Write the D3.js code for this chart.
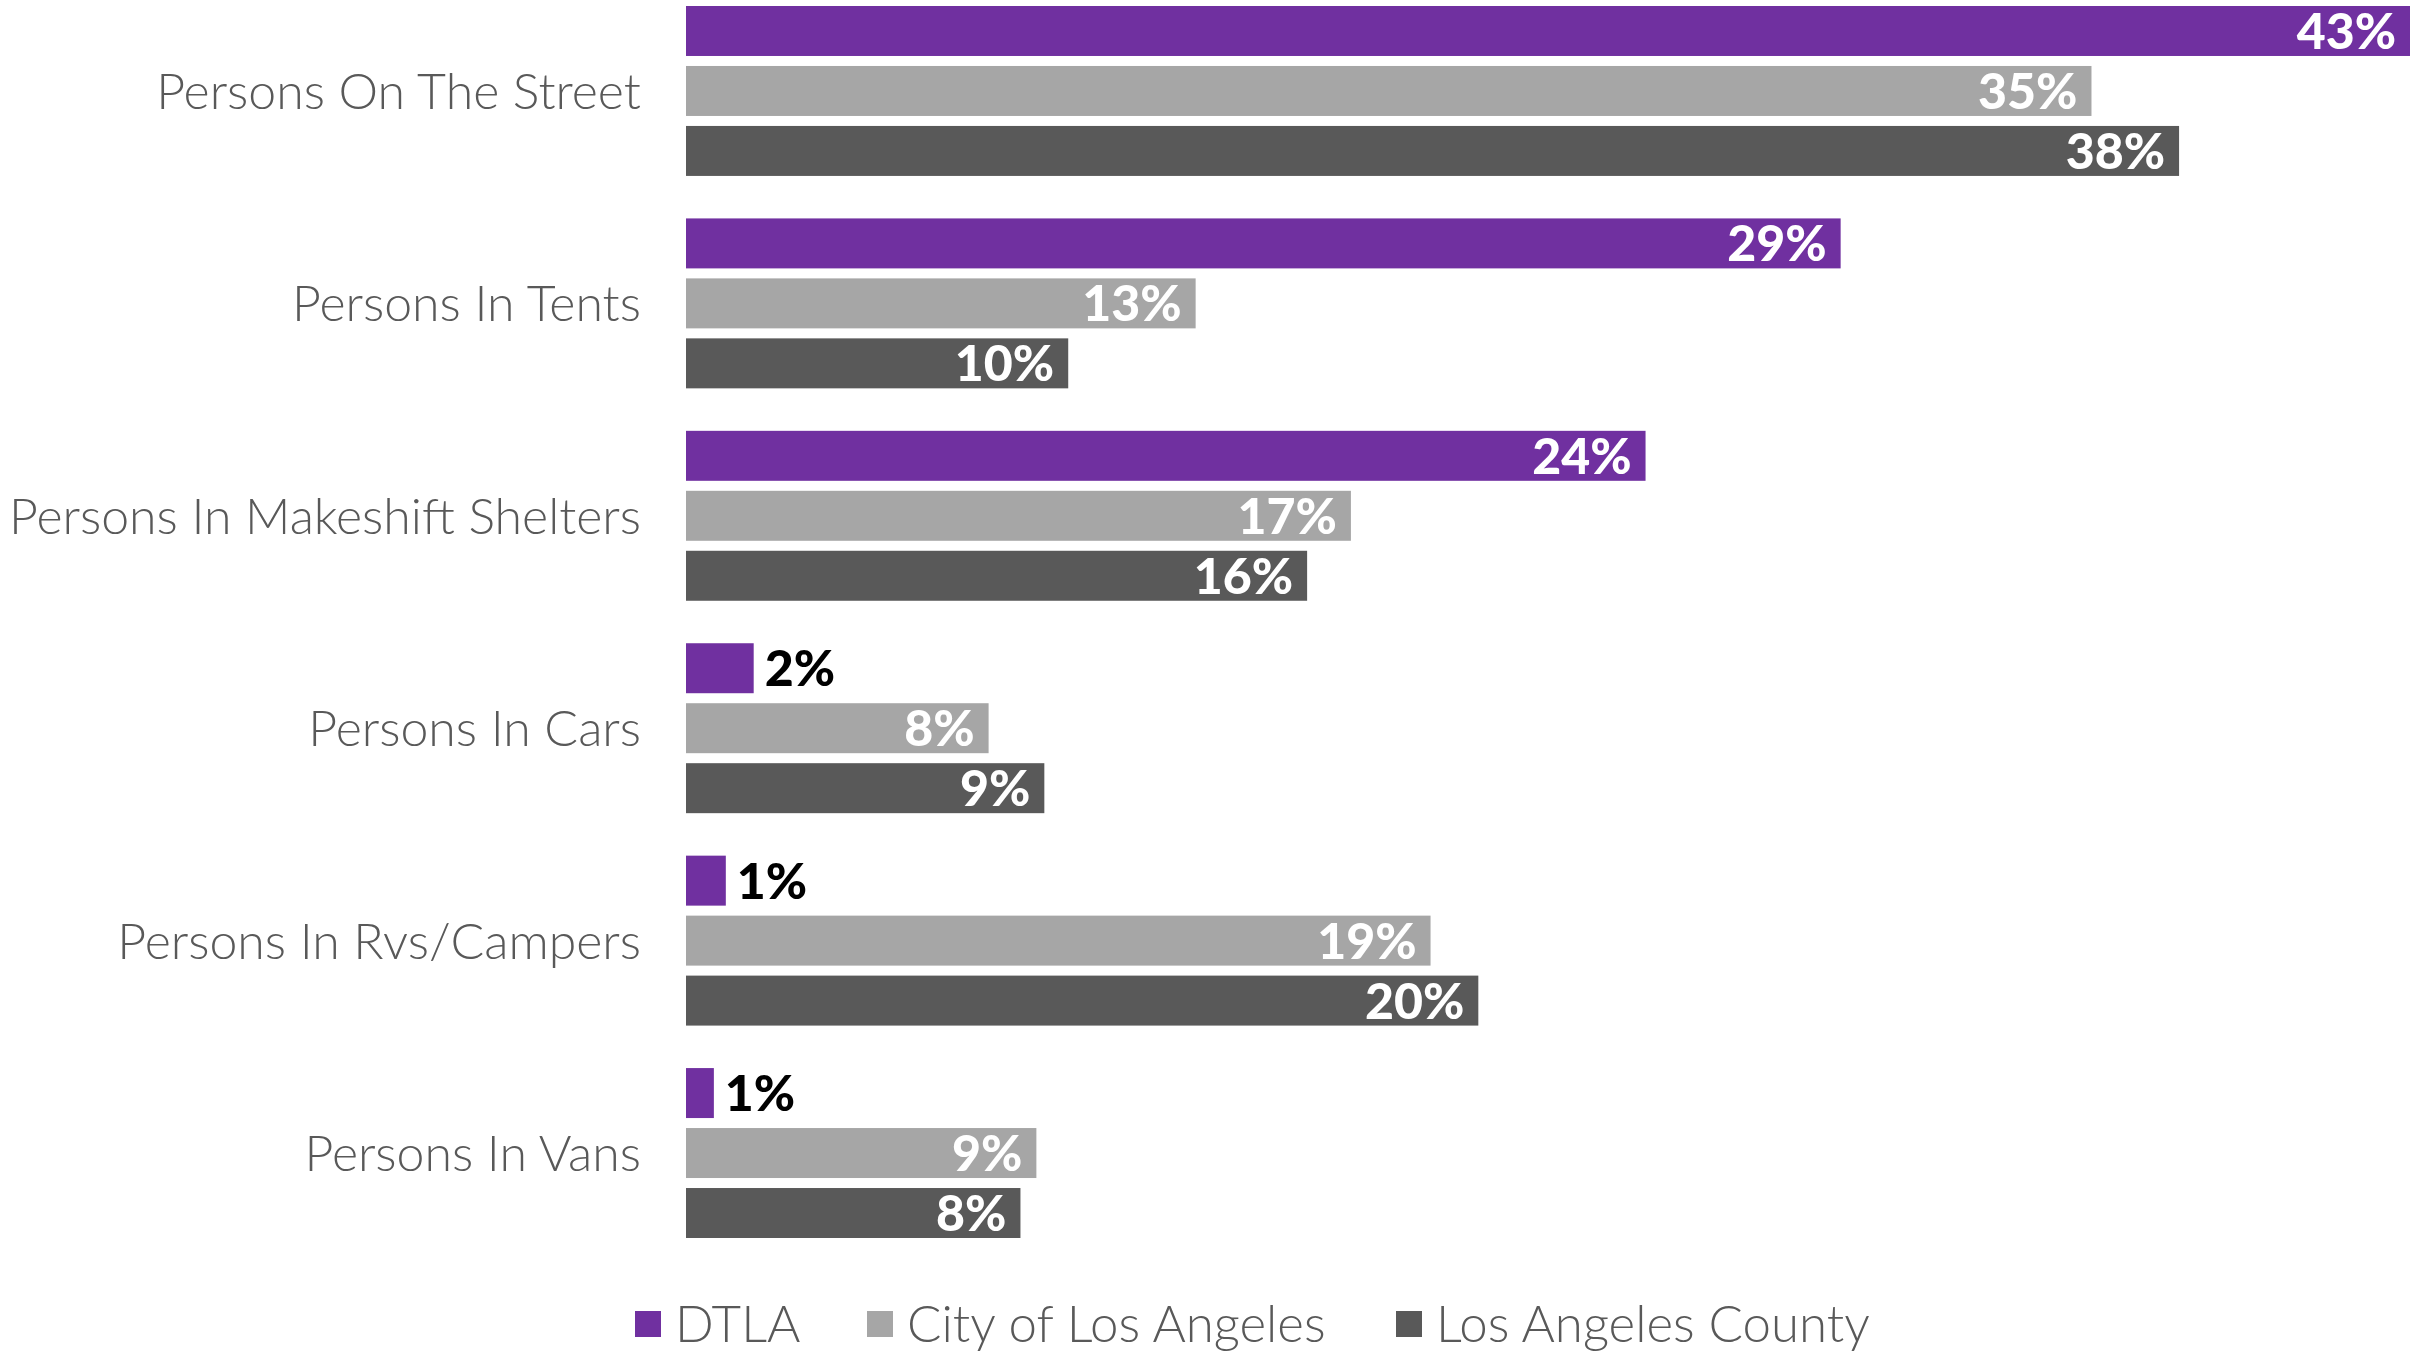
<!DOCTYPE html>
<html>
<head>
<meta charset="utf-8">
<script src="https://cdn.jsdelivr.net/npm/d3@7"></script>
<style>
    html, body { margin: 0; padding: 0; background: #fff; }
    svg { display: block; }
</style>
</head>
<body>
<svg id="chart" width="2410" height="1352"></svg>
<script>
"use strict";

        // data (percent)

var categories = [
    "Persons On The Street",
    "Persons In Tents",
    "Persons In Makeshift Shelters",
    "Persons In Cars",
    "Persons In Rvs/Campers",
    "Persons In Vans"
];

var seriesNames = ["DTLA", "City of Los Angeles", "Los Angeles County"];

var dtla   = [43.3, 29.0, 24.1, 1.7, 1.0, 0.7];
var city   = [35.3, 12.8, 16.7, 7.6, 18.7, 8.8];
var county = [37.5, 9.6, 15.6, 9.0, 19.9, 8.4];

var colors = ["#7030A0", "#A6A6A6", "#595959"];


        // layout globals

var barLeft = 686,
    barRight = 2410,
    labelFont = "Lato, 'Open Sans', sans-serif";


document.addEventListener("DOMContentLoaded", () => {

    var svg = d3.select("#chart");

    var series = [dtla, city, county];

    var x = d3.scaleLinear()
        .domain([0, d3.max(dtla)])
        .range([barLeft, barRight]);

    var y = d3.scaleBand()
        .domain(categories)
        .range([6, 1238])
        .paddingInner(0.2);

    var ySub = d3.scaleBand()
        .domain(seriesNames)
        .range([0, y.bandwidth()])
        .paddingInner(0.1667);


        // category labels

    svg.append("g")
        .selectAll("text")
        .data(categories)
        .join("text")
            .attr("x", 641)
            .attr("y", d => y(d) + y.bandwidth() / 2)
            .attr("dy", "0.36em")
            .attr("text-anchor", "end")
            .attr("font-family", labelFont)
            .attr("font-weight", 300)
            .attr("font-size", 50)
            .attr("fill", "#595959")
            .text(d => d);


        // bars + value labels

    seriesNames.forEach(function (name, s) {

        var rows = categories.map((c, i) => ({ cat: c, value: series[s][i] }));

        var g = svg.append("g").attr("class", "series");

        g.selectAll("rect")
            .data(rows)
            .join("rect")
                .attr("x", x(0))
                .attr("y", d => y(d.cat) + ySub(name))
                .attr("width", d => x(d.value) - x(0))
                .attr("height", ySub.bandwidth())
                .attr("fill", colors[s]);

        g.selectAll("text")
            .data(rows)
            .join("text")
                .attr("x", d => d.value < 4 ? x(d.value) + 11 : x(d.value) - 14)
                .attr("y", d => y(d.cat) + ySub(name) + ySub.bandwidth() / 2)
                .attr("dy", "0.36em")
                .attr("text-anchor", d => d.value < 4 ? "start" : "end")
                .attr("font-family", labelFont)
                .attr("font-weight", 900)
                .attr("font-size", 50)
                .attr("fill", d => d.value < 4 ? "#000" : "#fff")
                .text(d => Math.round(d.value) + "%");
    });


        // legend

    var legendX = [635, 867, 1396];

    var legend = svg.append("g")
        .selectAll("g")
        .data(seriesNames)
        .join("g")
            .attr("transform", (d, i) => "translate(" + legendX[i] + ",1311)");

    legend.append("rect")
        .attr("width", 26)
        .attr("height", 26)
        .attr("fill", (d, i) => colors[i]);

    legend.append("text")
        .attr("x", 40)
        .attr("y", 13)
        .attr("dy", "0.36em")
        .attr("font-family", labelFont)
        .attr("font-weight", 300)
        .attr("font-size", 51)
        .attr("fill", "#595959")
        .text(d => d);

});
</script>
</body>
</html>
